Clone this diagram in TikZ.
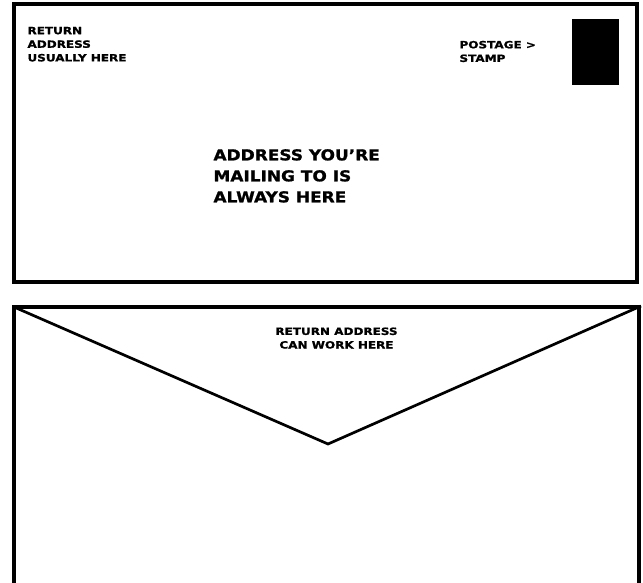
\documentclass[tikz,border=0pt]{standalone}
\usepackage{fontspec}
\setmainfont{DejaVu Sans}
\newfontfamily\envsmall{DejaVu Sans}[FakeStretch=1.2,FakeBold=1.2]
\newfontfamily\envbig{DejaVu Sans}[FakeStretch=1.13,FakeBold=1.2]
\begin{document}
\begin{tikzpicture}[x=1pt,y=-1pt,
  env/.style={line width=3.2pt},
  small/.style={font=\envsmall\bfseries\fontsize{10}{13.6}\selectfont, inner sep=0pt, align=left, anchor=north west},
  big/.style={font=\envbig\bfseries\fontsize{15}{21}\selectfont, inner sep=0pt, align=left, anchor=north west}]
\useasboundingbox (0,0) rectangle (643,582);
% top envelope
\draw[env] (14,4) rectangle (637,282);
\fill (572,19) rectangle (619,85);
\node[small] (ret) at (27.3,26.7) {RETURN\\ADDRESS\\USUALLY HERE};
\node[small] (post) at (459.3,40.7) {POSTAGE >\\STAMP};
\node[big] (addr) at (213.3,149) {ADDRESS YOU’RE\\MAILING TO IS\\ALWAYS HERE};
% bottom envelope (back)
\coordinate (bl) at (14,307);
\coordinate (br) at (639,307);
\coordinate (apex) at (328,444);
\draw[env] (14,600) -- (bl) -- (br) -- (639,600);
\draw[line width=2.7pt] (bl) -- (apex) -- (641,306);
\node[small, align=center, anchor=north] (ret2) at (336.5,327.3) {RETURN ADDRESS\\CAN WORK HERE};
\end{tikzpicture}
\end{document}
